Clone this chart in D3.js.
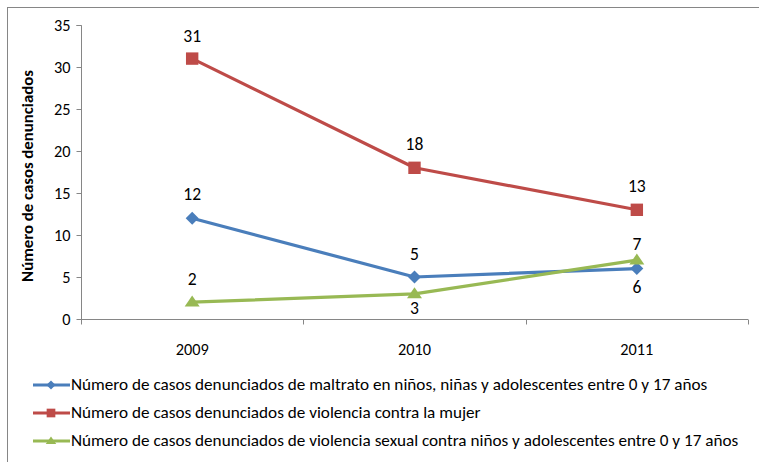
<!DOCTYPE html>
<html>
<head>
<meta charset="utf-8">
<script src="https://cdn.jsdelivr.net/npm/d3@7"></script>
<style>
  body { margin: 0; background: #fff; }
  svg { display: block; }
  text { font-family: Carlito, Lato, "Open Sans", sans-serif; fill: #000; }
</style>
</head>
<body>
<svg id="chart" width="759" height="462"></svg>
<script>
const categories = ["2009", "2010", "2011"];
const yTicks = [0, 5, 10, 15, 20, 25, 30, 35];
const seriesNames = [
  "Número de casos denunciados de maltrato en niños, niñas y adolescentes entre 0 y 17 años",
  "Número de casos denunciados de violencia contra la mujer",
  "Número de casos denunciados de violencia sexual contra niños y adolescentes entre 0 y 17 años"
];
const maltrato = [12, 5, 6];
const violenciaMujer = [31, 18, 13];
const violenciaSexual = [2, 3, 7];
const colors = ["#4A7EBB", "#BE4B48", "#98B954"];
const yTitle = "Número de casos denunciados";

const series = [maltrato, violenciaMujer, violenciaSexual];
// label placement (style): vertical offset of each data label baseline from its point
const labelDy = [[-18, -17, 24], [-17, -18, -18], [-17, 20, -10]];

const svg = d3.select("#chart");

// fit a text element's font size so its width matches a target
function fitSize(sel, base, target) {
  sel.style("font-size", base + "px");
  const w = sel.node().getComputedTextLength();
  const s = base * target / w;
  sel.style("font-size", s + "px");
  return s;
}

// outer border
svg.append("rect").attr("x", 7.5).attr("y", 7.5).attr("width", 780).attr("height", 480)
  .attr("fill", "none").attr("stroke", "#868686").attr("stroke-width", 1);

const x = d3.scaleBand().domain(categories).range([81, 748]);
const y = d3.scaleLinear().domain([0, 35]).range([319, 25]);
const axisColor = "#868686";

// determine tick font size from "2009" width
const probe = svg.append("text").text("2009");
const tickSize = fitSize(probe, 14, 33);
probe.remove();

// y axis
const yAxis = svg.append("g").attr("transform", "translate(81.5,0)")
  .call(d3.axisLeft(y).tickValues(yTicks).tickSize(5).tickPadding(6));
yAxis.select(".domain").attr("stroke", axisColor).attr("d", `M-5,${y(35)+0.5}H0V${y(0)+0.5}`);
yAxis.selectAll(".tick line").attr("stroke", axisColor);
yAxis.selectAll(".tick text").style("font-size", tickSize + "px")
  .style("font-family", "Carlito, Lato, sans-serif").attr("dy", "0.36em");

// x axis
const xAxisG = svg.append("g").attr("transform", `translate(0,${y(0)+0.5})`);
xAxisG.append("line").attr("x1", 81).attr("x2", 748).attr("stroke", axisColor);
const bounds = categories.map(c => x(c)).concat([x(categories[categories.length-1]) + x.bandwidth()]);
xAxisG.selectAll("line.tk").data(bounds).join("line").attr("class", "tk")
  .attr("x1", d => Math.round(d) + 0.5).attr("x2", d => Math.round(d) + 0.5)
  .attr("y1", 0).attr("y2", 5).attr("stroke", axisColor);
xAxisG.selectAll("text").data(categories).join("text")
  .attr("x", d => x(d) + x.bandwidth() / 2).attr("y", 35)
  .attr("text-anchor", "middle").style("font-size", tickSize + "px")
  .text(d => d);

// y title
const yt = svg.append("text").attr("transform", "translate(33,176) rotate(-90)")
  .attr("text-anchor", "middle").style("font-weight", "bold")
  .text(yTitle);
fitSize(yt, 13, 212);

const cx = i => x(categories[i]) + x.bandwidth() / 2;
const line = d3.line().x((d, i) => cx(i)).y(d => y(d));

function markerPath(si, k) {
  if (si === 0) { const h = 6.5 * k; return `M0,${-h}L${h},0L0,${h}L${-h},0Z`; }
  if (si === 1) { const h = 6.2 * k; return `M${-h},${-h}H${h}V${h}H${-h}Z`; }
  const w = 7.5 * k, h = 11 * k; return `M0,${-h*0.6}L${w},${h*0.4}L${-w},${h*0.4}Z`;
}

series.forEach((s, si) => {
  svg.append("path").datum(s).attr("d", line).attr("fill", "none")
    .attr("stroke", colors[si]).attr("stroke-width", 3.2).attr("stroke-linejoin", "round");
  svg.selectAll(null).data(s).join("path")
    .attr("transform", (d, i) => `translate(${cx(i)},${y(d)})`)
    .attr("d", markerPath(si, 1))
    .attr("fill", colors[si]);
});
series.forEach((s, si) => {
  svg.selectAll(null).data(s).join("text")
    .attr("x", (d, i) => cx(i))
    .attr("y", (d, i) => y(d) + labelDy[si][i])
    .attr("text-anchor", "middle").style("font-size", (tickSize * 1.08) + "px")
    .text(d => d);
});

// legend
const legendY = [385, 413, 441];
const lt0 = svg.append("text").text(seriesNames[0]);
const legendSize = fitSize(lt0, 15, 637);
lt0.remove();
seriesNames.forEach((name, si) => {
  const g = svg.append("g").attr("transform", `translate(0,${legendY[si]})`);
  g.append("line").attr("x1", 33).attr("x2", 70).attr("stroke", colors[si]).attr("stroke-width", 3);
  g.append("path").attr("transform", "translate(51,0)")
    .attr("d", markerPath(si, 0.7))
    .attr("fill", colors[si]);
  g.append("text").attr("x", 71).attr("y", 5).style("font-size", legendSize + "px").text(name);
});
</script>
</body>
</html>
